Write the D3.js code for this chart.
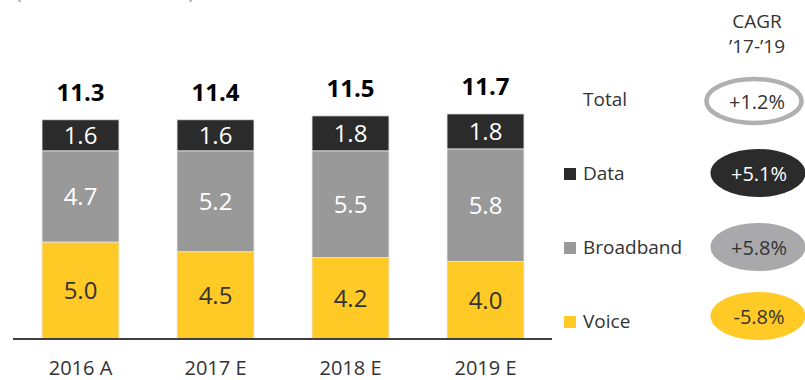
<!DOCTYPE html>
<html>
<head>
<meta charset="utf-8">
<script src="https://cdn.jsdelivr.net/npm/d3@7"></script>
<style>
  html, body { margin: 0; padding: 0; background: #fff; }
  svg { display: block; font-family: "Open Sans", "Noto Sans", sans-serif; }
</style>
</head>
<body>
<svg id="chart" width="805" height="380"></svg>
<script>
// Revenue by segment, EUR bn
const years = ["2016 A", "2017 E", "2018 E", "2019 E"];
const voice = [5.0, 4.5, 4.2, 4.0];
const broadband = [4.7, 5.2, 5.5, 5.8];
const data = [1.6, 1.6, 1.8, 1.8];
const totals = ["11.3", "11.4", "11.5", "11.7"];

const seriesNames = ["Voice", "Broadband", "Data"];
const seriesColors = ["#ffc926", "#999999", "#2b2b2b"];
const labelColors = ["#333333", "#ffffff", "#ffffff"];

// CAGR '17-'19
const cagrLabels = ["Total", "Data", "Broadband", "Voice"];
const cagrValues = ["+1.2%", "+5.1%", "+5.8%", "-5.8%"];

const svg = d3.select("#chart");

const x = d3.scaleBand()
  .domain(years)
  .range([13, 553])
  .paddingInner(0.43)
  .paddingOuter(0.215);

const y = d3.scaleLinear()
  .domain([0, 12])
  .range([339, 339 - 12 * 19.4]);

const rows = years.map((yr, i) => ({ year: yr, Voice: voice[i], Broadband: broadband[i], Data: data[i] }));
const stacked = d3.stack().keys(seriesNames)(rows);

// unit caption sitting at the top edge
svg.append("text")
  .attr("x", 16).attr("y", -1.5)
  .attr("font-size", 19).attr("fill", "#9a9a9a")
  .attr("textLength", 178)
  .text("(Revenue in EUR bn)");

// stacked bars
const layers = svg.append("g").selectAll("g")
  .data(stacked).join("g")
  .attr("fill", (d, i) => seriesColors[i]);

layers.selectAll("rect")
  .data(d => d).join("rect")
  .attr("x", d => x(d.data.year))
  .attr("width", x.bandwidth())
  .attr("y", d => y(d[1]))
  .attr("height", d => y(d[0]) - y(d[1]))
  .attr("stroke", "#e6e6e6")
  .attr("stroke-width", 0.8);

// segment values
stacked.forEach((layer, si) => {
  svg.append("g").selectAll("text")
    .data(layer).join("text")
    .attr("x", d => x(d.data.year) + x.bandwidth() / 2)
    .attr("y", d => (y(d[0]) + y(d[1])) / 2 + 8.5)
    .attr("text-anchor", "middle")
    .attr("font-size", 24)
    .attr("fill", labelColors[si])
    .text(d => d.data[layer.key].toFixed(1));
});

// totals above bars
const topLayer = stacked[stacked.length - 1];
svg.append("g").selectAll("text")
  .data(topLayer).join("text")
  .attr("x", d => x(d.data.year) + x.bandwidth() / 2)
  .attr("y", d => y(d[1]) - 18.5)
  .attr("text-anchor", "middle")
  .attr("font-size", 24)
  .attr("font-weight", 700)
  .attr("fill", "#000")
  .text((d, i) => totals[i]);

// baseline
svg.append("line")
  .attr("x1", 13).attr("x2", 552)
  .attr("y1", y(0)).attr("y2", y(0))
  .attr("stroke", "#404040").attr("stroke-width", 2);

// category axis
const xAxis = svg.append("g")
  .attr("transform", `translate(0,${y(0)})`)
  .call(d3.axisBottom(x).tickSize(0).tickPadding(22));
xAxis.select(".domain").remove();
xAxis.selectAll("text")
  .attr("font-size", 20)
  .attr("fill", "#333")
  .attr("font-family", "'Open Sans', 'Noto Sans', sans-serif");

// CAGR header
svg.append("text")
  .attr("x", 757).attr("y", 28)
  .attr("text-anchor", "middle").attr("font-size", 19).attr("fill", "#333")
  .text("CAGR");
svg.append("text")
  .attr("x", 757).attr("y", 53)
  .attr("text-anchor", "middle").attr("font-size", 19).attr("fill", "#333")
  .text("\u201917-\u201919");

// legend rows + CAGR ellipses
const rowY = [101, 173, 247, 316];
const legendKey = { Data: 2, Broadband: 1, Voice: 0 };
const labelBase = [106, 180, 254, 328];

cagrLabels.forEach((name, i) => {
  const g = svg.append("g");
  const si = legendKey[name];
  if (si !== undefined) {
    g.append("rect")
      .attr("x", 564).attr("y", labelBase[i] - 12)
      .attr("width", 12).attr("height", 12)
      .attr("fill", seriesColors[si]);
  }
  g.append("text")
    .attr("x", 583).attr("y", labelBase[i])
    .attr("font-size", 19).attr("fill", "#333")
    .text(name);

  const ell = g.append("ellipse")
    .attr("cx", name === "Total" ? 754 : 758)
    .attr("cy", rowY[i])
    .attr("rx", name === "Total" ? 47.5 : 47.5)
    .attr("ry", name === "Total" ? 22 : 24);
  if (name === "Total") {
    ell.attr("fill", "#fff").attr("stroke", "#b0b0b0").attr("stroke-width", 4.5);
  } else if (name === "Data") {
    ell.attr("fill", "#2b2b2b");
  } else if (name === "Broadband") {
    ell.attr("fill", "#a9a9ab");
  } else {
    ell.attr("fill", "#ffc926");
  }
  g.append("text")
    .attr("x", name === "Total" ? 757 : 759)
    .attr("y", rowY[i] + 7.5)
    .attr("text-anchor", "middle")
    .attr("font-size", 20)
    .attr("fill", name === "Data" ? "#fff" : "#333")
    .text(cagrValues[i]);
});
</script>
</body>
</html>
